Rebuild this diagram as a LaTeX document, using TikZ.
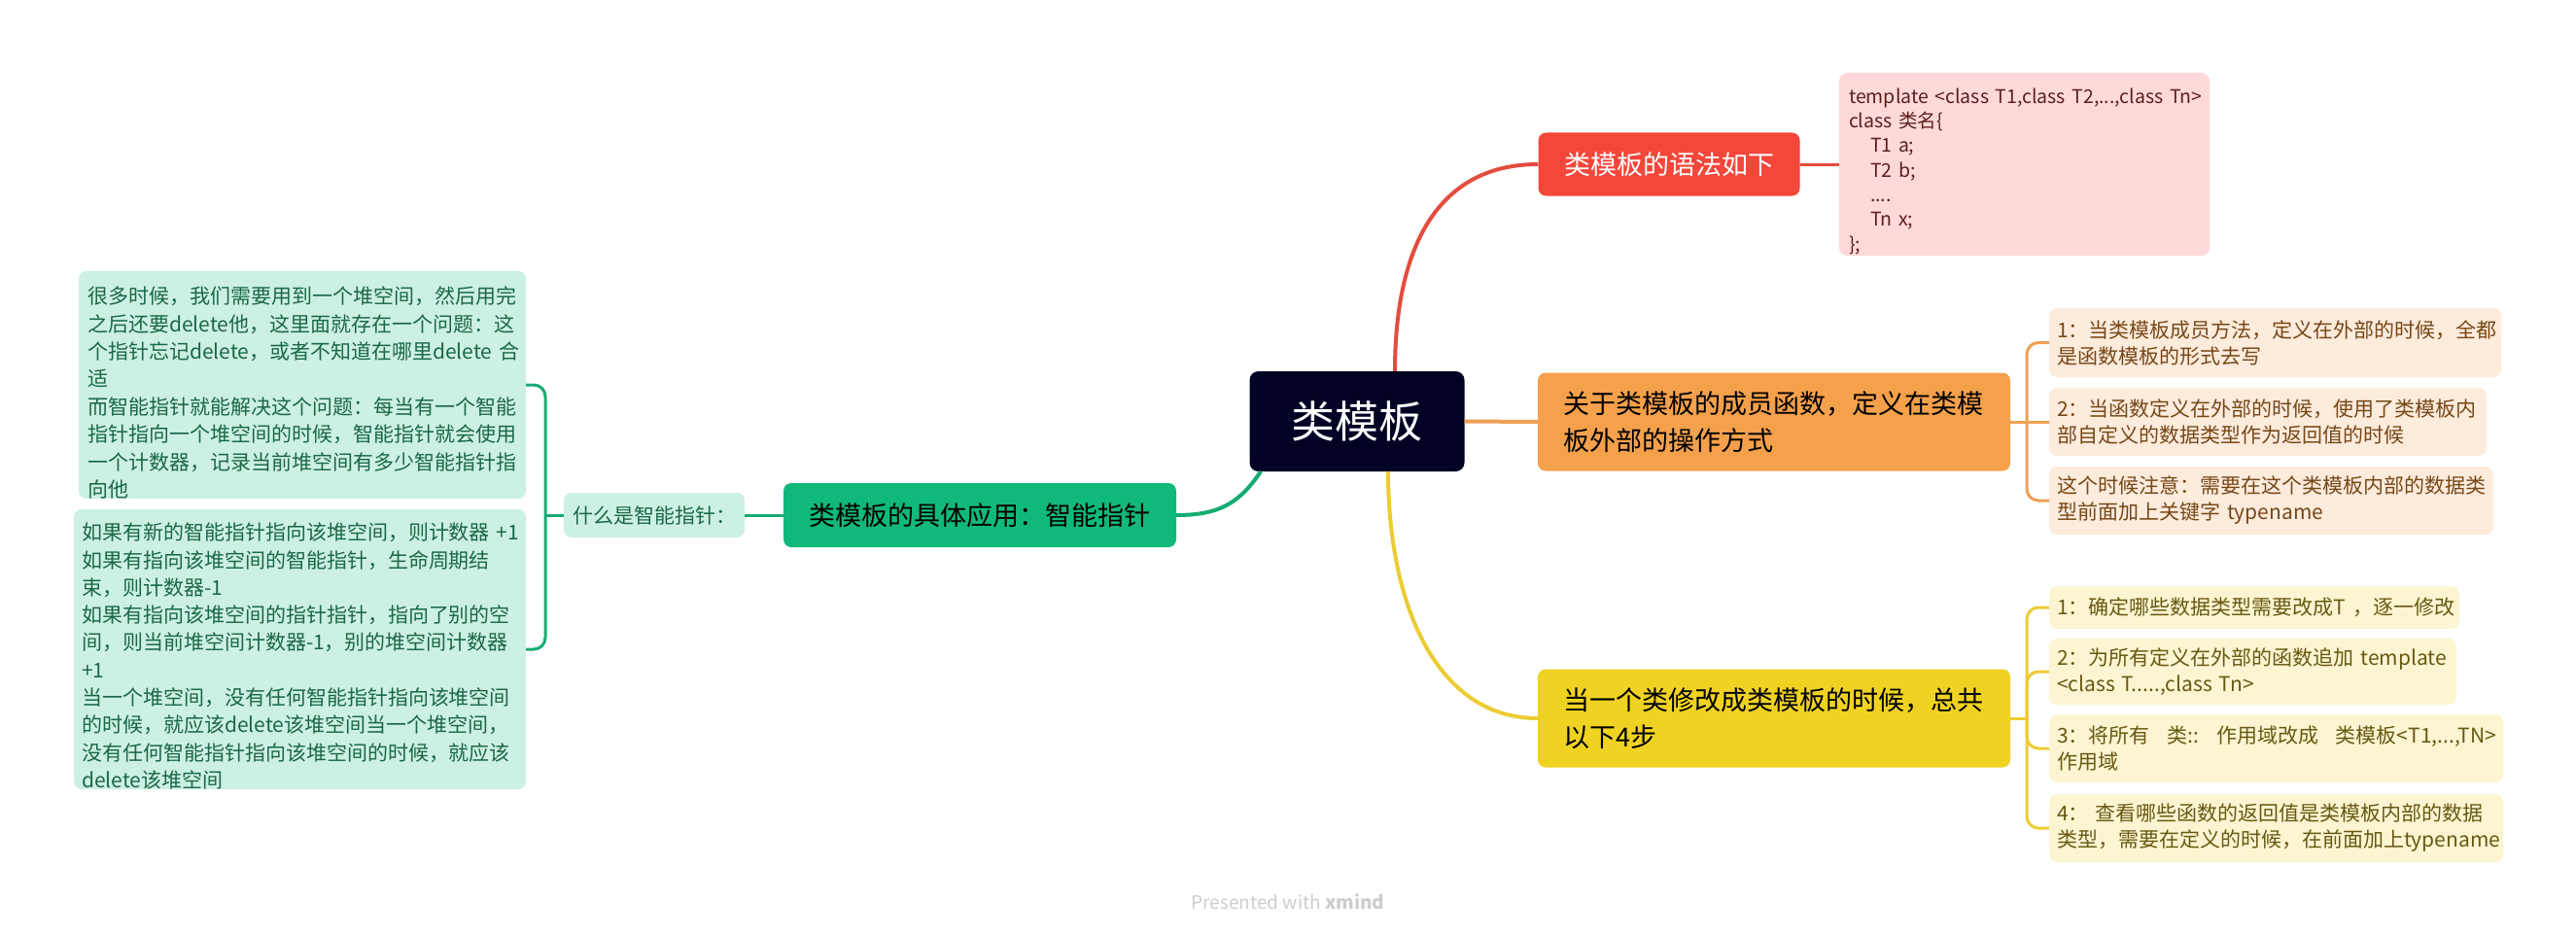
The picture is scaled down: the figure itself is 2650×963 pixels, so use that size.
\documentclass[tikz,border=0pt]{standalone}
\usepackage{fontspec}
\setmainfont{Noto Sans CJK SC}
\usetikzlibrary{positioning}
\definecolor{tplnavy}{RGB}{2,2,36}
\definecolor{tplred}{RGB}{245,70,58}
\definecolor{tplredlink}{RGB}{228,76,62}
\definecolor{tplpink}{RGB}{255,217,217}
\definecolor{tplredtext}{RGB}{92,30,30}
\definecolor{tplorange}{RGB}{245,160,75}
\definecolor{tplorangelink}{RGB}{238,160,84}
\definecolor{tplpeach}{RGB}{253,235,220}
\definecolor{tplbrown}{RGB}{118,72,24}
\definecolor{tplyellow}{RGB}{240,210,35}
\definecolor{tplyellowlink}{RGB}{236,204,52}
\definecolor{tplcream}{RGB}{253,245,210}
\definecolor{tplolive}{RGB}{104,88,18}
\definecolor{tplgreen}{RGB}{16,185,122}
\definecolor{tplgreenlink}{RGB}{20,172,114}
\definecolor{tplmint}{RGB}{205,240,228}
\definecolor{tpldarkgreen}{RGB}{26,104,70}
\definecolor{tplgrey}{RGB}{205,205,205}

\begin{document}
\begin{tikzpicture}[x=1pt,y=-1pt,
  rootbox/.style={rounded corners=9pt, fill=tplnavy, text=white, inner sep=0pt,
    minimum width=221pt, minimum height=103pt, font=\fontsize{45}{54}\selectfont},
  topic/.style={rounded corners=8pt, inner sep=0pt, align=center,
    font=\fontsize{27}{38}\selectfont},
  longtopic/.style={rounded corners=8pt, align=left, inner xsep=26pt, inner ysep=0pt,
    text width=434pt, minimum height=101pt, font=\fontsize{27}{38}\selectfont},
  leaf/.style={rounded corners=8pt, align=left, inner xsep=8pt, inner ysep=0pt,
    font=\fontsize{21}{27}\selectfont},
  mainlink/.style={line width=4pt},
  sublink/.style={line width=3pt, rounded corners=12pt}]
  \useasboundingbox (0,0) rectangle (2650,963);

  % centre
  \node[rootbox] (tpl) at (1396,433.5) {类模板};

  % syntax branch
  \node[topic, fill=tplred, text=white, minimum width=269pt, minimum height=65pt]
    (syntax) at (1717,169) {类模板的语法如下};
  \node[leaf, fill=tplpink, text=tplredtext, inner xsep=10pt, text width=361pt,
    minimum height=188pt, font=\fontsize{19.5}{25.3}\selectfont] (code) at (2082.5,169)
    {\rule{0pt}{30pt}template~<class~T1,class~T2,...,class~Tn>\\
     class~类名\{\\
     \hspace*{22pt}T1~a;\\
     \hspace*{22pt}T2~b;\\
     \hspace*{22pt}....\\
     \hspace*{22pt}Tn~x;\\
     \};};

  % member functions branch
  \node[longtopic, fill=tplorange] (member) at (1825,434)
    {关于类模板的成员函数，定义在类模\\板外部的操作方式};
  \node[leaf, fill=tplpeach, text=tplbrown, text width=449pt, minimum height=71pt]
    (outer1) at (2340.5,352.5)
    {1：当类模板成员方法，定义在外部的时候，全都\\是函数模板的形式去写};
  \node[leaf, fill=tplpeach, text=tplbrown, text width=434pt, minimum height=70pt]
    (outer2) at (2333,434)
    {2：当函数定义在外部的时候，使用了类模板内\\部自定义的数据类型作为返回值的时候};
  \node[leaf, fill=tplpeach, text=tplbrown, text width=441pt, minimum height=70pt]
    (outer3) at (2336.5,515)
    {这个时候注意：需要在这个类模板内部的数据类\\型前面加上关键字~typename};

  % conversion steps branch
  \node[longtopic, fill=tplyellow] (steps) at (1825,739)
    {当一个类修改成类模板的时候，总共\\以下4步};
  \node[leaf, fill=tplcream, text=tplolive, text width=406pt, minimum height=44pt]
    (step1) at (2319,625)
    {1：确定哪些数据类型需要改成T~，逐一修改};
  \node[leaf, fill=tplcream, text=tplolive, text width=403pt, minimum height=68pt]
    (step2) at (2317.5,691)
    {2：为所有定义在外部的函数追加~template\\<class~T.....,class~Tn>};
  \node[leaf, fill=tplcream, text=tplolive, text width=451pt, minimum height=70pt]
    (step3) at (2341.5,770)
    {3：将所有\kern0.85em类::\kern0.85em作用域改成\kern0.85em类模板<T1,...,TN>\\作用域};
  \node[leaf, fill=tplcream, text=tplolive, text width=451pt, minimum height=70pt]
    (step4) at (2341.5,852)
    {4：~查看哪些函数的返回值是类模板内部的数据\\类型，需要在定义的时候，在前面加上typename};

  % smart pointer branch
  \node[topic, fill=tplgreen, text=black, minimum width=404pt, minimum height=66pt]
    (smart) at (1008,530) {类模板的具体应用：智能指针};
  \node[topic, fill=tplmint, text=tpldarkgreen, minimum width=186pt, minimum height=46pt,
    font=\fontsize{21}{27}\selectfont] (what) at (673,530) {什么是智能指针：};
  \node[leaf, fill=tplmint, text=tpldarkgreen, inner xsep=9pt, text width=442pt,
    minimum height=234pt, font=\fontsize{21}{28.4}\selectfont] (why) at (311,396)
    {\rule{0pt}{34pt}很多时候，我们需要用到一个堆空间，然后用完\\
     之后还要delete他，这里面就存在一个问题：这\\
     个指针忘记delete，或者不知道在哪里delete~合\\
     适\\
     而智能指针就能解决这个问题：每当有一个智能\\
     指针指向一个堆空间的时候，智能指针就会使用\\
     一个计数器，记录当前堆空间有多少智能指针指\\
     向他};
  \node[leaf, fill=tplmint, text=tpldarkgreen, inner xsep=8pt, text width=449pt,
    minimum height=286pt, font=\fontsize{21}{28.3}\selectfont] (count) at (308.5,668)
    {\rule{0pt}{32pt}如果有新的智能指针指向该堆空间，则计数器~+1\\
     如果有指向该堆空间的智能指针，生命周期结\\
     束，则计数器-1\\
     如果有指向该堆空间的指针指针，指向了别的空\\
     间，则当前堆空间计数器-1，别的堆空间计数器\\
     +1\\
     当一个堆空间，没有任何智能指针指向该堆空间\\
     的时候，就应该delete该堆空间当一个堆空间，\\
     没有任何智能指针指向该堆空间的时候，就应该\\
     delete该堆空间};

  % links from the centre
  \draw[mainlink, tplredlink] ([xshift=39pt]tpl.north)
    .. controls +(0,-125) and +(-105,0) .. (syntax.west);
  \draw[mainlink, tplorangelink] (tpl.east) -- (member.west);
  \draw[mainlink, tplyellowlink] ([xshift=32pt]tpl.south)
    .. controls +(0,135) and +(-105,0) .. (steps.west);
  \draw[mainlink, tplgreenlink] ([xshift=-99pt]tpl.south)
    .. controls +(-22,32) and +(45,0) .. (smart.east);

  % links to the leaves
  \draw[sublink, tplredlink] (syntax.east) -- (code.west);

  \coordinate (orangefork) at (2085,434);
  \draw[sublink, tplorangelink] (member.east) -- (outer2.west);
  \draw[sublink, tplorangelink] (orangefork) |- (outer1.west);
  \draw[sublink, tplorangelink] (orangefork) |- (outer3.west);

  \coordinate (yellowfork) at (2085,739);
  \draw[sublink, tplyellowlink] (steps.east) -- (yellowfork);
  \foreach \s in {step1,step2,step3,step4}
    \draw[sublink, tplyellowlink] (yellowfork) |- (\s.west);

  \coordinate (greenfork) at (561,530);
  \draw[sublink, tplgreenlink] (smart.west) -- (what.east);
  \draw[sublink, tplgreenlink] (what.west) -- (greenfork);
  \draw[sublink, tplgreenlink] (greenfork) |- (why.east);
  \draw[sublink, tplgreenlink] (greenfork) |- (count.east);

  % footer
  \node[text=tplgrey, font=\fontsize{19}{23}\selectfont] (brand) at (1325,928)
    {Presented with \textbf{xmind}};
\end{tikzpicture}
\end{document}
